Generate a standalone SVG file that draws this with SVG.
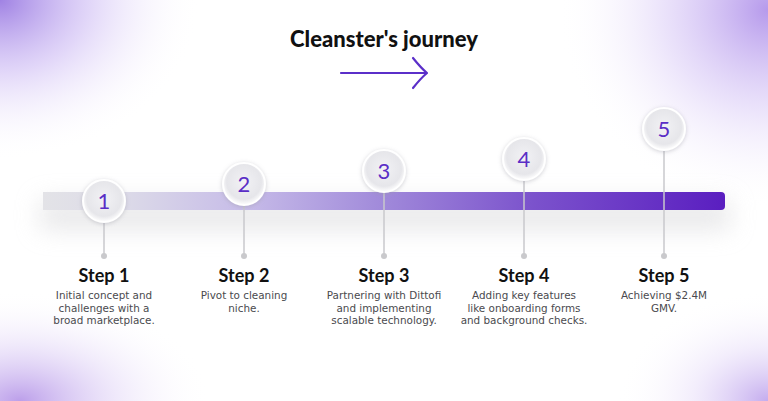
<svg xmlns="http://www.w3.org/2000/svg" width="768" height="401" viewBox="0 0 768 401">
  <defs>
    <radialGradient id="glowTL" cx="0" cy="0" r="1" gradientUnits="userSpaceOnUse" gradientTransform="translate(0 0) scale(200 160)">
      <stop offset="0" stop-color="#9574e0" stop-opacity="0.9"/>
      <stop offset="0.45" stop-color="#c4aef2" stop-opacity="0.5"/>
      <stop offset="1" stop-color="#ffffff" stop-opacity="0"/>
    </radialGradient>
    <radialGradient id="glowTR" cx="0" cy="0" r="1" gradientUnits="userSpaceOnUse" gradientTransform="translate(768 10) scale(210 200)">
      <stop offset="0" stop-color="#a988e8" stop-opacity="0.85"/>
      <stop offset="0.5" stop-color="#cdb9f4" stop-opacity="0.4"/>
      <stop offset="1" stop-color="#ffffff" stop-opacity="0"/>
    </radialGradient>
    <radialGradient id="glowBL" cx="0" cy="0" r="1" gradientUnits="userSpaceOnUse" gradientTransform="translate(20 401) scale(190 110)">
      <stop offset="0" stop-color="#b08ee6" stop-opacity="0.85"/>
      <stop offset="0.5" stop-color="#d7c6f4" stop-opacity="0.4"/>
      <stop offset="1" stop-color="#ffffff" stop-opacity="0"/>
    </radialGradient>
    <radialGradient id="glowBR" cx="0" cy="0" r="1" gradientUnits="userSpaceOnUse" gradientTransform="translate(768 401) scale(150 110)">
      <stop offset="0" stop-color="#b597ea" stop-opacity="0.8"/>
      <stop offset="0.5" stop-color="#dccdf6" stop-opacity="0.35"/>
      <stop offset="1" stop-color="#ffffff" stop-opacity="0"/>
    </radialGradient>
    <linearGradient id="barGrad" x1="43" y1="0" x2="725" y2="0" gradientUnits="userSpaceOnUse">
      <stop offset="0" stop-color="#e3e3e7"/>
      <stop offset="0.12" stop-color="#dcdae8"/>
      <stop offset="0.3" stop-color="#c6bbe8"/>
      <stop offset="0.5" stop-color="#a089da"/>
      <stop offset="0.72" stop-color="#7b52cc"/>
      <stop offset="1" stop-color="#5a1ec0"/>
    </linearGradient>
    <radialGradient id="circGrad" cx="0.5" cy="0.45" r="0.55">
      <stop offset="0" stop-color="#f2f2f5"/>
      <stop offset="0.75" stop-color="#e6e6ea"/>
      <stop offset="1" stop-color="#ffffff"/>
    </radialGradient>
    <filter id="soft" x="-20%" y="-200%" width="140%" height="500%">
      <feGaussianBlur stdDeviation="12"/>
    </filter>
    <filter id="cshadow" x="-50%" y="-50%" width="200%" height="200%">
      <feDropShadow dx="0" dy="1" stdDeviation="2" flood-color="#9a9aa5" flood-opacity="0.45"/>
    </filter>
  </defs>
  <style>
    .title { font-family: "Lato", "Liberation Sans", sans-serif; font-weight: 900; font-size: 22px; fill: #111111; text-anchor: middle; }
    .num { font-family: "Lato", "Liberation Sans", sans-serif; font-weight: 400; font-size: 22px; fill: #5a2ec6; text-anchor: middle; }
    .step { font-family: "Lato", "Liberation Sans", sans-serif; font-weight: 700; font-size: 18px; fill: #111111; text-anchor: middle; }
    .desc { font-family: "DejaVu Sans", "Liberation Sans", sans-serif; font-weight: 400; font-size: 10.4px; fill: #4a4a4e; text-anchor: middle; }
    .stem { stroke: #c9c9cc; stroke-width: 1.5; fill: none; }
    .dot { fill: #c9c9cc; }
    .circ { fill: url(#circGrad); stroke: #ffffff; stroke-width: 2; filter: url(#cshadow); }
  </style>

  <rect x="0" y="0" width="768" height="401" fill="#ffffff"/>
  <rect x="0" y="0" width="768" height="401" fill="url(#glowTL)"/>
  <rect x="0" y="0" width="768" height="401" fill="url(#glowTR)"/>
  <rect x="0" y="0" width="768" height="401" fill="url(#glowBL)"/>
  <rect x="0" y="0" width="768" height="401" fill="url(#glowBR)"/>

  <g id="title">
    <text class="title" x="384" y="47">Cleanster's journey</text>
    <path d="M341 73 H426 M413 58 Q421 68 427 73 Q421 78 413 88" fill="none" stroke="#5b2fc9" stroke-width="2.2" stroke-linecap="round" stroke-linejoin="round"/>
  </g>

  <g id="timeline-bar">
    <rect x="40" y="200" width="690" height="30" fill="#dadadd" opacity="0.6" filter="url(#soft)"/>
    <path d="M43 192 H721 Q725 192 725 196 V206 Q725 210 721 210 H43 Z" fill="url(#barGrad)"/>
  </g>

  <g id="connectors">
    <line class="stem" x1="104" y1="201" x2="104" y2="256"/>
    <circle class="dot" cx="104" cy="256" r="3"/>
    <line class="stem" x1="244" y1="184" x2="244" y2="256"/>
    <circle class="dot" cx="244" cy="256" r="3"/>
    <line class="stem" x1="384" y1="171" x2="384" y2="256"/>
    <circle class="dot" cx="384" cy="256" r="3"/>
    <line class="stem" x1="524" y1="159" x2="524" y2="256"/>
    <circle class="dot" cx="524" cy="256" r="3"/>
    <line class="stem" x1="664" y1="129" x2="664" y2="256"/>
    <circle class="dot" cx="664" cy="256" r="3"/>
  </g>

  <g id="step1">
    <circle class="circ" cx="104" cy="201" r="21"/>
    <text class="num" x="104" y="209">1</text>
    <text class="step" x="104" y="282">Step 1</text>
    <text class="desc" x="104" y="299">Initial concept and</text>
    <text class="desc" x="104" y="311.5">challenges with a</text>
    <text class="desc" x="104" y="324">broad marketplace.</text>
  </g>
  <g id="step2">
    <circle class="circ" cx="244" cy="184" r="21"/>
    <text class="num" x="244" y="192">2</text>
    <text class="step" x="244" y="282">Step 2</text>
    <text class="desc" x="244" y="299">Pivot to cleaning</text>
    <text class="desc" x="244" y="311.5">niche.</text>
  </g>
  <g id="step3">
    <circle class="circ" cx="384" cy="171" r="21"/>
    <text class="num" x="384" y="179">3</text>
    <text class="step" x="384" y="282">Step 3</text>
    <text class="desc" x="384" y="299">Partnering with Dittofi</text>
    <text class="desc" x="384" y="311.5">and implementing</text>
    <text class="desc" x="384" y="324">scalable technology.</text>
  </g>
  <g id="step4">
    <circle class="circ" cx="524" cy="159" r="21"/>
    <text class="num" x="524" y="167">4</text>
    <text class="step" x="524" y="282">Step 4</text>
    <text class="desc" x="524" y="299">Adding key features</text>
    <text class="desc" x="524" y="311.5">like onboarding forms</text>
    <text class="desc" x="524" y="324">and background checks.</text>
  </g>
  <g id="step5">
    <circle class="circ" cx="664" cy="129" r="21"/>
    <text class="num" x="664" y="137">5</text>
    <text class="step" x="664" y="282">Step 5</text>
    <text class="desc" x="664" y="299">Achieving $2.4M</text>
    <text class="desc" x="664" y="311.5">GMV.</text>
  </g>
</svg>
